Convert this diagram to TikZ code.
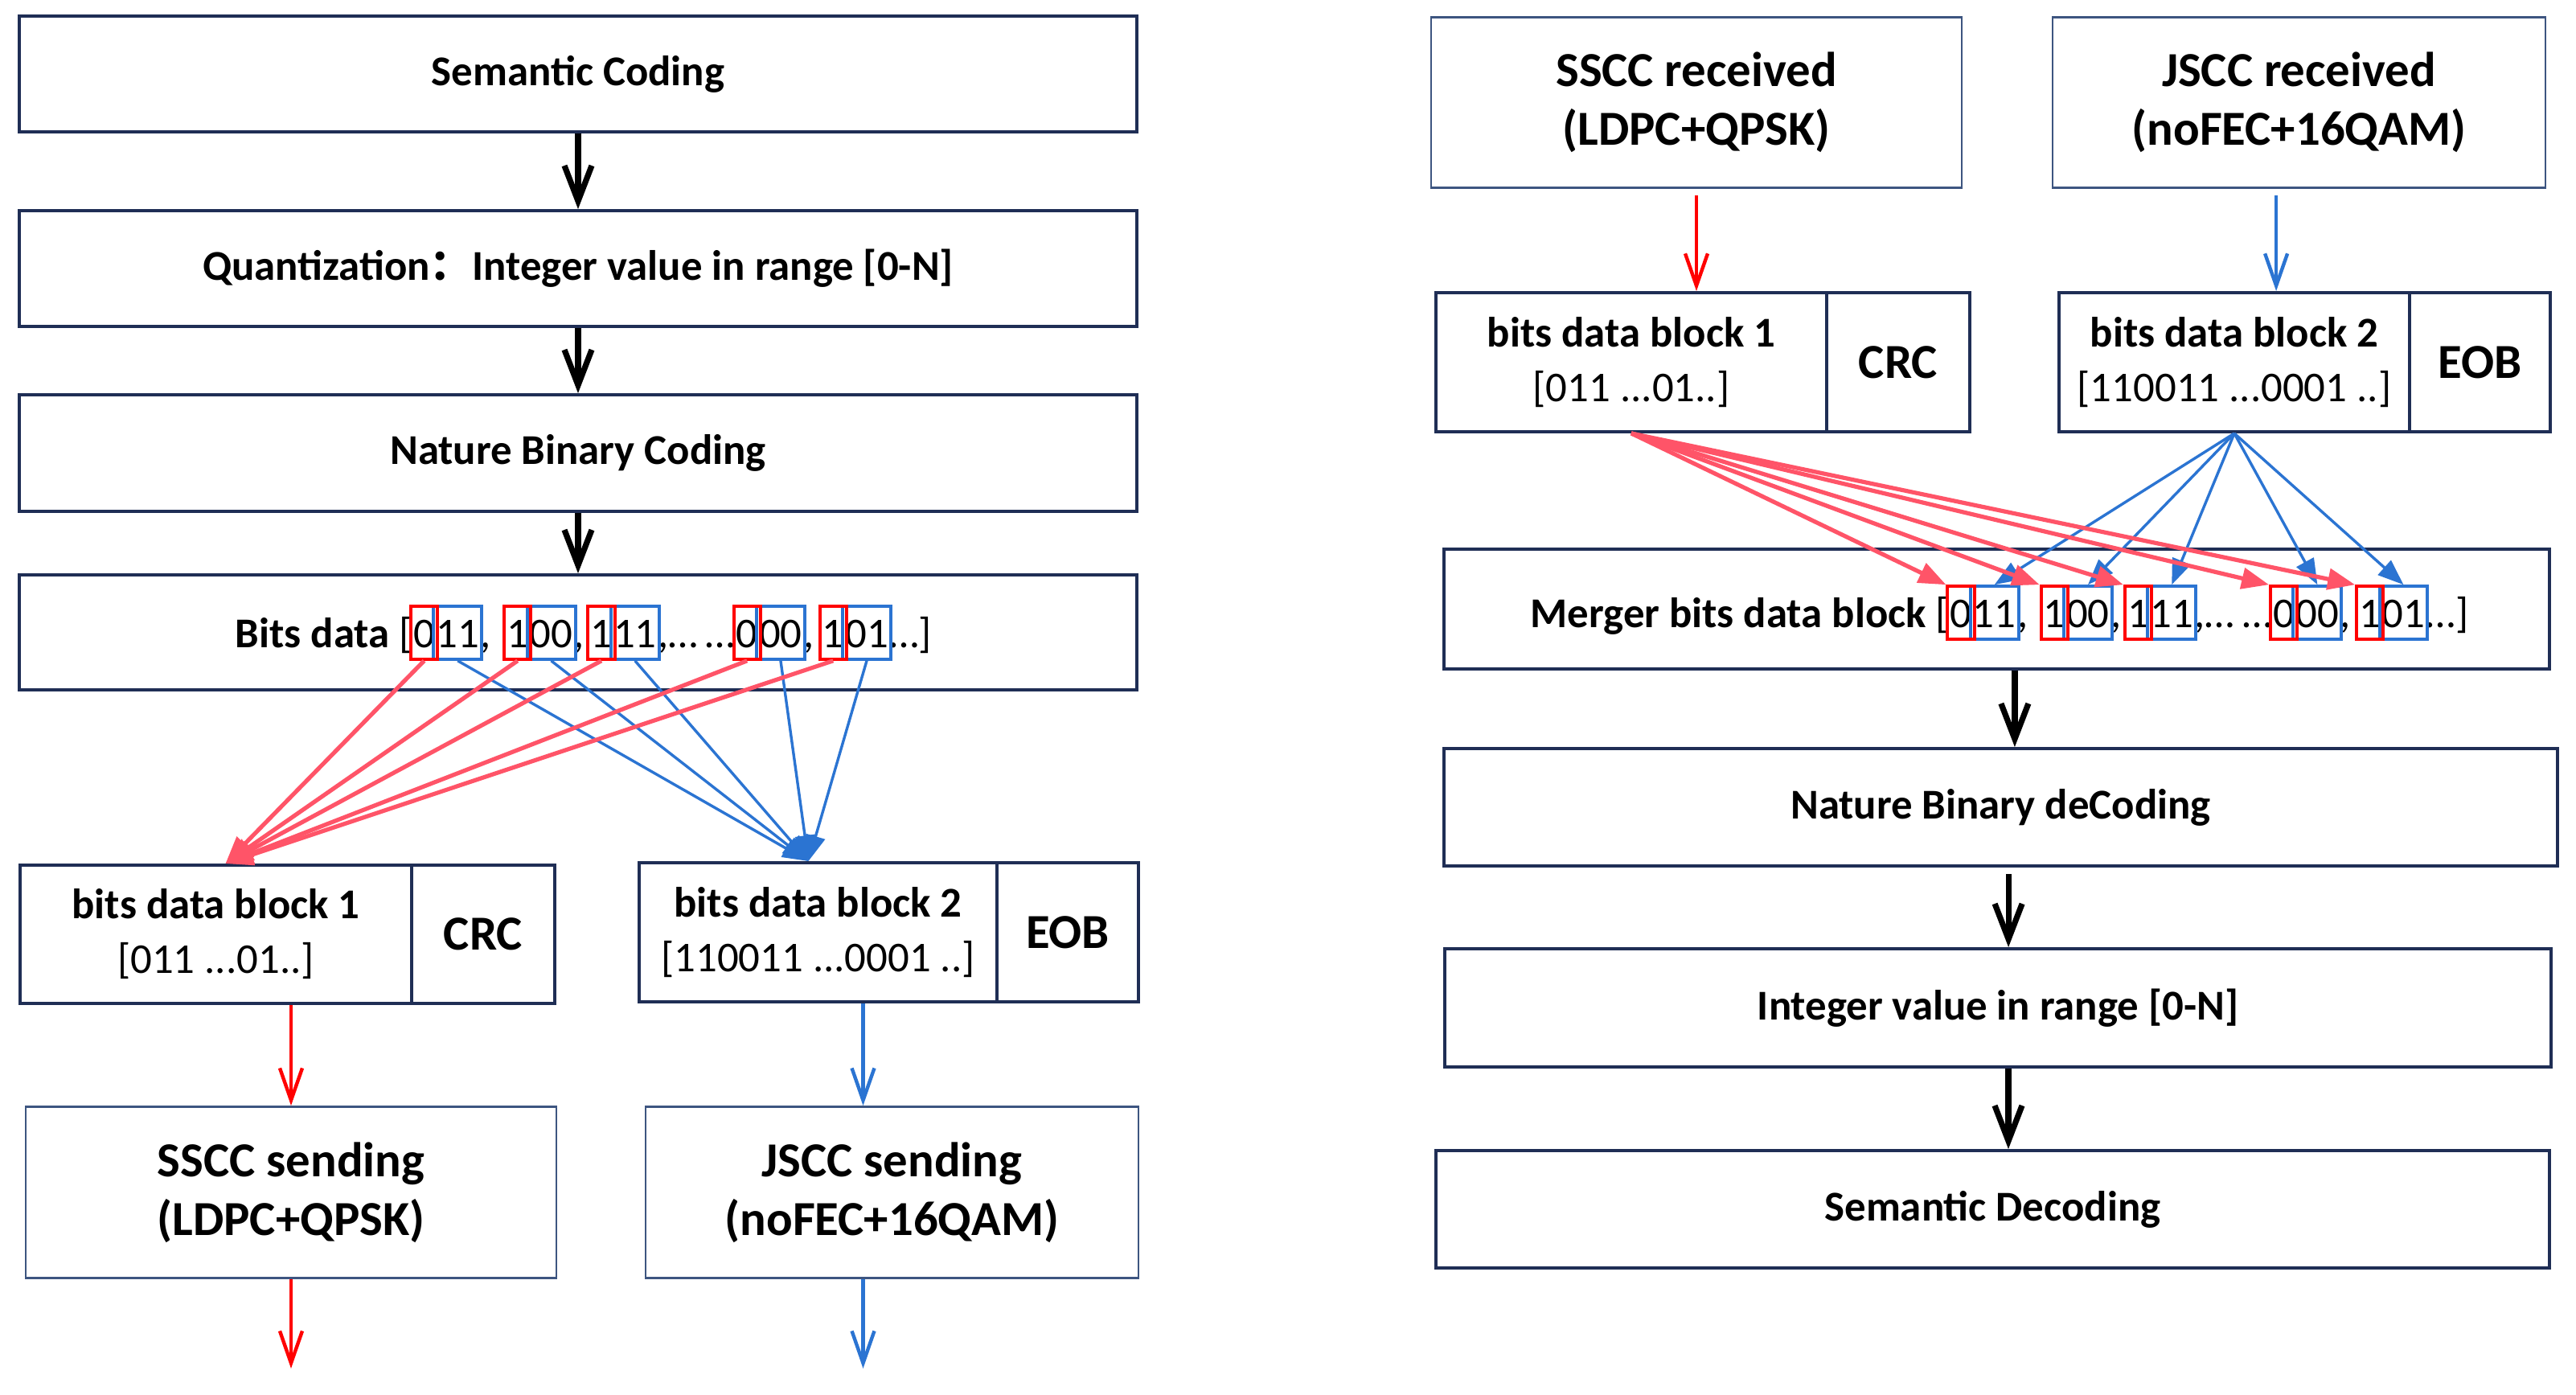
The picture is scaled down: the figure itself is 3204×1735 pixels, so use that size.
\documentclass[tikz,border=0pt]{standalone}
\usepackage{fontspec}
\setmainfont{Carlito}
\newfontfamily\cjk{Noto Sans CJK SC}
\usetikzlibrary{arrows.meta,fit}
\definecolor{navy}{HTML}{1F2E55}
\definecolor{navyb}{HTML}{3D5580}
\definecolor{pinkr}{HTML}{FF5468}
\definecolor{bl}{HTML}{2B74D2}
\definecolor{rd}{HTML}{FF0000}
\frenchspacing
\newcommand{\gapA}{\kern4.5pt}
\newcommand{\gapB}{\kern1.5pt}
\newcommand{\gapC}{\kern2.2pt}
\newcommand{\gapD}{\kern2.5pt}
\begin{document}
\begin{tikzpicture}[x=0.25pt,y=-0.25pt,
  box/.style={draw=navy, line width=1pt, fill=white, inner sep=0pt, align=center,
    font=\bfseries\fontsize{13.2}{17}\selectfont},
  tbox/.style={box, draw=navyb, line width=0.7pt, font=\bfseries\fontsize{15.2}{18.3}\selectfont},
  bigt/.style={font=\bfseries\fontsize{15.2}{18.3}\selectfont},
  seg/.style={inner sep=0pt, anchor=base west, font=\fontsize{13.2}{16}\selectfont},
  bit/.style={seg, text height=12.5pt, text depth=3.5pt},
  redbox/.style={draw=rd, line width=1pt, inner xsep=0.6pt, inner ysep=0pt},
  bluebox/.style={draw=bl, line width=1pt, inner xsep=0.6pt, inner ysep=0pt},
  blk/.style={draw=black, line width=1.8pt, -{Straight Barb[length=11pt,width=8.5pt]}},
  redv/.style={draw=rd, line width=1.1pt, -{Straight Barb[length=10pt,width=7pt]}},
  bluev/.style={draw=bl, line width=1.1pt, -{Straight Barb[length=10pt,width=7pt]}},
  pinkarr/.style={draw=pinkr, line width=1.3pt, -{Triangle[length=8.5pt,width=6.5pt]}},
  bluearr/.style={draw=bl, line width=0.85pt, -{Triangle[length=8pt,width=6pt]}}
]
\useasboundingbox (0,0) rectangle (3204,1735);

% ---------------- left column ----------------
\node[box, minimum width=347.5pt, minimum height=36pt] (sc) at (719,92) {Semantic Coding};
\node[box, minimum width=347.5pt, minimum height=36pt] (qz) at (719,334) {Quantization{\cjk ：}Integer value in range [0-N]};
\node[box, minimum width=347.5pt, minimum height=36.25pt] (nb) at (719,563.5) {Nature Binary Coding};
\node[box, minimum width=347.5pt, minimum height=35.75pt] (bd) at (719,786.5) {};

\node[box, minimum width=121.75pt, minimum height=43pt] (b1L) at (268.5,1162) {bits data block 1\\{\mdseries [011 ...01..]}};
\node[box, bigt, minimum width=44.5pt, minimum height=43pt] (b1R) at (601,1162) {CRC};
\node[box, minimum width=111.25pt, minimum height=43.25pt] (b2L) at (1017.5,1159.5) {bits data block 2\\{\mdseries [110011 ...0001 ..]}};
\node[box, bigt, minimum width=44pt, minimum height=43.25pt] (b2R) at (1328,1159.5) {EOB};

\node[tbox, minimum width=165pt, minimum height=53.25pt] (ss) at (362,1483) {SSCC sending\\(LDPC+QPSK)};
\node[tbox, minimum width=153.25pt, minimum height=53.25pt] (js) at (1109.5,1483) {JSCC sending\\(noFEC+16QAM)};

\draw[blk] (sc) -- (qz);
\draw[blk] (qz) -- (nb);
\draw[blk] (nb) -- (bd);

\draw[redv] (ss.north |- b1L.south) -- (ss.north);
\coordinate (ssout) at (362,1702);
\draw[redv] (ss.south) -- (ssout);
\draw[bluev] ([xshift=-9pt]js.north |- b2L.south) -- ([xshift=-9pt]js.north);
\coordinate (jsout) at (1073.5,1702);
\draw[bluev] ([xshift=-9pt]js.south) -- (jsout);

% bits data row (left)
\node[seg] (l0) at (292,805) {\textbf{Bits data} [};
\node[bit] (lr1) at (l0.base east) {0};
\node[bit] (lb1) at (lr1.base east) {11};
\node[seg] (lc1) at (lb1.base east) {,\gapA};
\node[bit] (lr2) at (lc1.base east) {1};
\node[bit] (lb2) at (lr2.base east) {00};
\node[seg] (lc2) at (lb2.base east) {,\gapB};
\node[bit] (lr3) at (lc2.base east) {1};
\node[bit] (lb3) at (lr3.base east) {11};
\node[seg] (lc3) at (lb3.base east) {,…\gapD…};
\node[bit] (lr4) at (lc3.base east) {0};
\node[bit] (lb4) at (lr4.base east) {00};
\node[seg] (lc4) at (lb4.base east) {,\gapC};
\node[bit] (lr5) at (lc4.base east) {1};
\node[bit] (lb5) at (lr5.base east) {01};
\node[seg] (lc5) at (lb5.base east) {…]};
\foreach \i in {1,...,5} {
  \node[bluebox, fit=(lb\i)] (lB\i) {};
  \node[redbox, fit=(lr\i)] (lR\i) {};
}
\coordinate (t1) at ([xshift=3pt]b1L.north);
\coordinate (t2) at ([xshift=-3pt]b2L.north);
\foreach \i in {1,...,5} {
  \draw[pinkarr] (lR\i.south) -- (t1);
  \draw[bluearr] (lB\i.south) -- (t2);
}

% ---------------- right column ----------------
\node[tbox, minimum width=165pt, minimum height=53pt] (sr) at (2110,127.5) {SSCC received\\(LDPC+QPSK)};
\node[tbox, minimum width=153.25pt, minimum height=53pt] (jr) at (2859.5,127.5) {JSCC received\\(noFEC+16QAM)};

\node[box, minimum width=121.5pt, minimum height=43.25pt] (rb1L) at (2029,450.5) {bits data block 1\\{\mdseries [011 ...01..]}};
\node[box, bigt, minimum width=44.5pt, minimum height=43.25pt] (rb1R) at (2361,450.5) {CRC};
\node[box, minimum width=109pt, minimum height=43.25pt] (rb2L) at (2779,450.5) {bits data block 2\\{\mdseries [110011 ...0001 ..]}};
\node[box, bigt, minimum width=43.75pt, minimum height=43.25pt] (rb2R) at (3084.5,450.5) {EOB};

\node[box, minimum width=343.75pt, minimum height=37.25pt] (mg) at (2483.5,757.5) {};
\node[box, minimum width=346.25pt, minimum height=36.5pt] (nd) at (2488.5,1004) {Nature Binary deCoding};
\node[box, minimum width=344pt, minimum height=36.75pt] (iv) at (2485,1253.5) {Integer value in range [0-N]};
\node[box, minimum width=346.25pt, minimum height=36.5pt] (sd) at (2478.5,1504) {Semantic Decoding};

\draw[redv, shorten <=2pt] (sr.south) -- (sr.south |- rb1L.north);
\draw[bluev, shorten <=2pt] ([xshift=-7.1pt]jr.south) -- ([xshift=-7.1pt]jr.south |- rb2L.north);

\draw[blk] ([xshift=5.6pt]mg.south) -- ([xshift=5.6pt]mg.south |- nd.north);
\draw[blk, shorten <=2pt] ([xshift=2.4pt]nd.south) -- ([xshift=2.4pt]nd.south |- iv.north);
\draw[blk] ([xshift=3.25pt]iv.south) -- ([xshift=3.25pt]iv.south |- sd.north);

% merger row (right)
\node[seg] (r0) at (1903,780) {\textbf{Merger bits data block} [};
\node[bit] (rr1) at (r0.base east) {0};
\node[bit] (rb1) at (rr1.base east) {11};
\node[seg] (rc1) at (rb1.base east) {,\gapA};
\node[bit] (rr2) at (rc1.base east) {1};
\node[bit] (rb2) at (rr2.base east) {00};
\node[seg] (rc2) at (rb2.base east) {,\gapB};
\node[bit] (rr3) at (rc2.base east) {1};
\node[bit] (rb3) at (rr3.base east) {11};
\node[seg] (rc3) at (rb3.base east) {,…\gapD…};
\node[bit] (rr4) at (rc3.base east) {0};
\node[bit] (rb4) at (rr4.base east) {00};
\node[seg] (rc4) at (rb4.base east) {,\gapC};
\node[bit] (rr5) at (rc4.base east) {1};
\node[bit] (rb5) at (rr5.base east) {01};
\node[seg] (rc5) at (rb5.base east) {…]};
\foreach \i in {1,...,5} {
  \node[bluebox, fit=(rb\i)] (rB\i) {};
  \node[redbox, fit=(rr\i)] (rR\i) {};
}
\foreach \i in {1,...,5} {
  \draw[pinkarr] (rb1L.south) -- (rR\i.north west);
  \draw[bluearr] (rb2L.south) -- (rB\i.north);
}
\end{tikzpicture}
\end{document}
